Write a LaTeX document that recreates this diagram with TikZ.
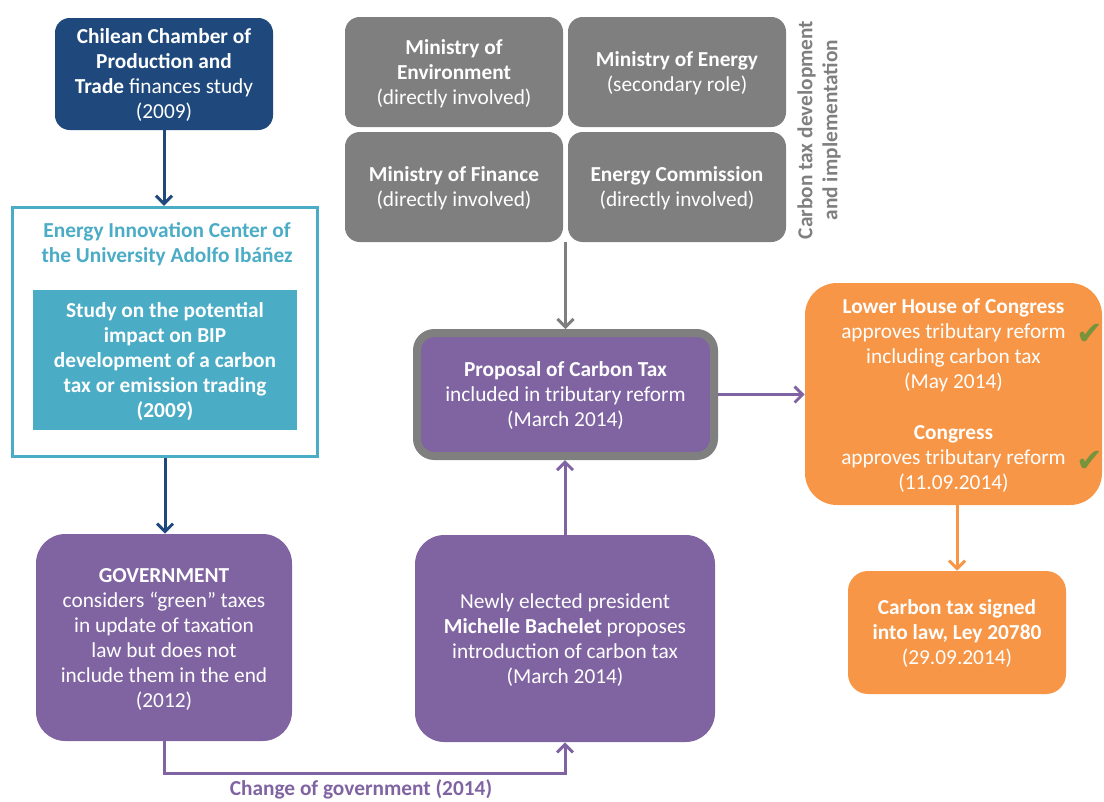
\documentclass[tikz,border=0pt]{standalone}
\usepackage{fontspec}
\setmainfont{Carlito}
\newfontfamily\symfont{DejaVu Sans}
\usetikzlibrary{arrows.meta}
\definecolor{cdblue}{HTML}{1F497D}
\definecolor{cteal}{HTML}{4BACC6}
\definecolor{cpurple}{HTML}{8064A2}
\definecolor{cgrey}{HTML}{7F7F7F}
\definecolor{corange}{HTML}{F79646}
\definecolor{cgreen}{HTML}{77933C}
\begin{document}
\begin{tikzpicture}[x=0.75pt,y=-0.75pt,
  every node/.style={font=\fontsize{16}{18.75}\selectfont, align=center, inner sep=0pt},
  fillbox/.style={rectangle, fill=#1, text=white, text depth=0pt},
  arr/.style={draw=#1, line width=2.25pt, -{Straight Barb[length=6pt,width=12pt]}},
  mini/.style={fillbox=cgrey, rounded corners=11pt, minimum width=163.5pt, minimum height=82.5pt},
  chk/.style={text=cgreen, font=\symfont\fontsize{24}{26}\selectfont},
  bfont/.style={font=\fontsize{16}{18.75}\selectfont\bfseries}
]
\useasboundingbox (0,0) rectangle (1104,801);

% top-left box
\node[fillbox=cdblue, rounded corners=11pt, minimum width=163.5pt, minimum height=84pt] (cham) at (164,74)
  {\textbf{Chilean Chamber of}\\\textbf{Production and}\\\textbf{Trade} finances study\\(2009)};

% energy innovation center
\node[draw=cteal, line width=2.25pt, fill=white, minimum width=229pt, minimum height=187pt] (eic) at (165,332) {};
\node[text=cteal, bfont] (eict) at (167,244)
  {Energy Innovation Center of\\the University Adolfo Ibáñez};
\node[fillbox=cteal, minimum width=198pt, minimum height=105pt, bfont] (study) at (165,360)
  {Study on the potential\\impact on BIP\\development of a carbon\\tax or emission trading\\(2009)};

% government
\node[fillbox=cpurple, rounded corners=22pt, minimum width=192pt, minimum height=155.25pt] (gov) at (164,637.5)
  {\textbf{GOVERNMENT}\\considers “green” taxes\\in update of taxation\\law but does not\\include them in the end\\(2012)};

% Bachelet
\node[fillbox=cpurple, rounded corners=22pt, minimum width=225pt, minimum height=155.25pt] (bach) at (565,638.5)
  {Newly elected president\\\textbf{Michelle Bachelet} proposes\\introduction of carbon tax\\(March 2014)};

% proposal
\node[fillbox=cpurple, draw=cgrey, line width=6pt, rounded corners=13pt, minimum width=222.75pt, minimum height=92.25pt] (prop) at (565.5,394.5)
  {\textbf{Proposal of Carbon Tax}\\included in tributary reform\\(March 2014)};

% ministries
\node[mini] (mtl) at (454,72) {\textbf{Ministry of}\\\textbf{Environment}\\(directly involved)};
\node[mini] (mtr) at (677,72) {\textbf{Ministry of Energy}\\(secondary role)};
\node[mini] (mbl) at (454,187) {\textbf{Ministry of Finance}\\(directly involved)};
\node[mini] (mbr) at (677,187) {\textbf{Energy Commission}\\(directly involved)};
\node[rotate=90, text=cgrey, bfont] (mlab) at (819,130)
  {Carbon tax development\\and implementation};
\coordinate (mbot) at (565.5,242);

% orange
\node[fillbox=corange, rounded corners=24pt, minimum width=222.75pt, minimum height=166.5pt] (lower) at (953.5,394)
  {\textbf{Lower House of Congress}\\approves tributary reform\\including carbon tax\\(May 2014)\\[19.5pt]\textbf{Congress}\\approves tributary reform\\(11.09.2014)};
\node[chk] (chk1) at (1090,334) {✔};
\node[chk] (chk2) at (1090,461) {✔};
\node[fillbox=corange, rounded corners=15pt, minimum width=163.5pt, minimum height=92.25pt] (final) at (957,632.5)
  {\textbf{Carbon tax signed}\\\textbf{into law, Ley 20780}\\(29.09.2014)};

% connectors
\draw[arr=cdblue] (cham.south) -- (cham.south |- eic.north);
\draw[arr=cdblue] (eic.south) -- (eic.south |- gov.north);
\coordinate (bend1) at (164,773);
\coordinate (bend2) at (565,773);
\draw[arr=cpurple] (gov.south) -- (bend1) -- (bend2) -- (bend2 |- bach.south);
\node[text=cpurple, bfont] (chg) at (361,789) {Change of government (2014)};
\draw[arr=cpurple] (bach.north) -- (bach.north |- prop.south);
\draw[arr=cgrey] (mbot) -- (mbot |- prop.north);
\draw[arr=cpurple] (prop.east) -- (prop.east -| lower.west);
\draw[arr=corange] (final.north |- lower.south) -- (final.north);
\end{tikzpicture}
\end{document}
